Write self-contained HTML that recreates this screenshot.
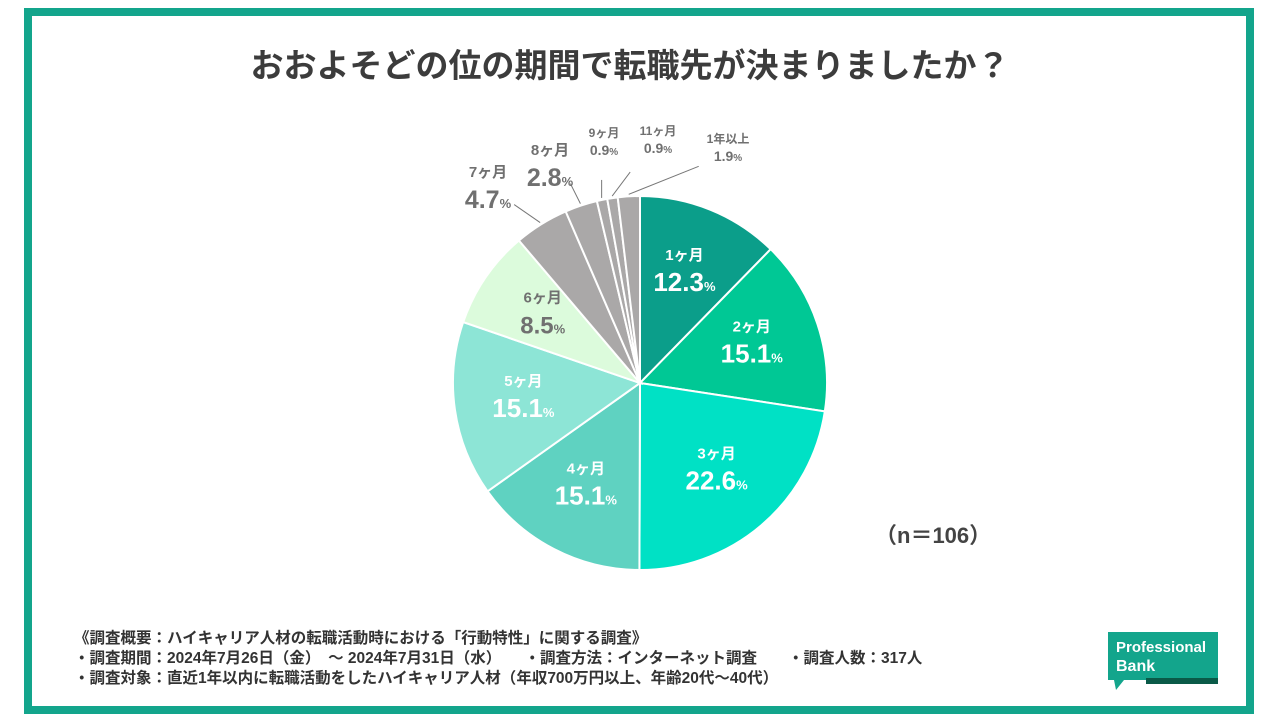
<!DOCTYPE html>
<html><head><meta charset="utf-8"><style>
body{margin:0;width:1280px;height:720px;background:#fff;overflow:hidden;font-family:"Liberation Sans","Noto Sans CJK JP",sans-serif;position:relative}
.frame{position:absolute;left:24px;top:8px;width:1214px;height:690px;border:8px solid #13a58c}
.title{position:absolute;left:0;width:1260px;top:39px;text-align:center;font-size:33px;font-weight:bold;color:#3c3c3c}
.foot{position:absolute;left:74px;top:629px;font-size:15.5px;font-weight:bold;color:#333;line-height:20px;white-space:pre}
.n{position:absolute;left:875px;top:518px;font-size:22px;font-weight:bold;color:#444}
</style></head><body>
<div class="frame"></div>
<div class="title">おおよそどの位の期間で転職先が決まりましたか？</div>
<svg id="pie" width="1280" height="720" style="position:absolute;left:0;top:0"></svg>
<div class="n">（n＝106）</div>
<div class="foot">《調査概要：ハイキャリア人材の転職活動時における「行動特性」に関する調査》
・調査期間：2024年7月26日（金）　～ 2024年7月31日（水）　　・調査方法：インターネット調査　　・調査人数：317人
・調査対象：直近1年以内に転職活動をしたハイキャリア人材（年収700万円以上、年齢20代～40代）</div>
<svg width="120" height="66" style="position:absolute;left:1106px;top:628px">
<path d="M2 4 H112 V52 H18 L10 62 L8 52 H2 Z" fill="#13a58c"/>
<rect x="40" y="50" width="72" height="6" fill="#0a5a48"/>
<text x="10" y="24" font-size="15" fill="#fff" font-family="Liberation Sans" font-weight="bold">Professional</text>
<text x="10" y="43" font-size="16" fill="#fff" font-family="Liberation Sans" font-weight="bold">Bank</text>
</svg>
<script>
const categories=["1ヶ月","2ヶ月","3ヶ月","4ヶ月","5ヶ月","6ヶ月","7ヶ月","8ヶ月","9ヶ月","11ヶ月","1年以上"];
const values=[12.3,15.1,22.6,15.1,15.1,8.5,4.7,2.8,0.9,0.9,1.9];
const colors=["#0b9e8a","#00c895","#00e1c5","#5fd2c1","#8de5d6","#dcfbdc","#aaa8a8","#aaa8a8","#aaa8a8","#aaa8a8","#aaa8a8"];
const svg=document.getElementById('pie');const NS="http://www.w3.org/2000/svg";
const cx=640,cy=383,r=187;const total=values.reduce((a,b)=>a+b,0);
function pt(a,rr){return [cx+rr*Math.sin(a),cy-rr*Math.cos(a)];}
let a0=0;
values.forEach((v,i)=>{
 const a1=a0+v/total*2*Math.PI;
 const p0=pt(a0,r),p1=pt(a1,r);
 const p=document.createElementNS(NS,'path');
 p.setAttribute('d',`M${cx},${cy}L${p0[0]},${p0[1]}A${r},${r} 0 ${a1-a0>Math.PI?1:0} 1 ${p1[0]},${p1[1]}Z`);
 p.setAttribute('fill',colors[i]);p.setAttribute('stroke','#fff');p.setAttribute('stroke-width','2');
 
 
 svg.appendChild(p);
 const mid=(a0+a1)/2;
 let lx,ly,big,fill,inside=i<6;
 if(inside){const q=pt(mid,r*0.63);lx=q[0];ly=q[1];big=i==5?24:26;fill=i==5?'#707070':'#fff';}
 else{
  const off=[[-152,-192],[-90,-214],[-36,-238],[18,-240],[88,-232]][i-6];
  const e=pt(mid,r+2);
  const ends=[[e[0]-26,e[1]-18],[e[0]-10,e[1]-20],[e[0],e[1]-18],[e[0]+18,e[1]-24],[e[0]+70,e[1]-28]][i-6];
  const ln=document.createElementNS(NS,'line');
  ln.setAttribute('x1',e[0]);ln.setAttribute('y1',e[1]);ln.setAttribute('x2',ends[0]);ln.setAttribute('y2',ends[1]);
  ln.setAttribute('stroke','#777');ln.setAttribute('stroke-width','1');
  
  
  svg.appendChild(ln);
  lx=cx+off[0];ly=cy+off[1];big=i<8?25:14;fill='#707070';
 }
 const small=!inside&&i>=8;
 const t1=document.createElementNS(NS,'text');
 t1.setAttribute('x',lx);t1.setAttribute('y',ly-(small?8:14));t1.setAttribute('text-anchor','middle');
 t1.setAttribute('font-size',small?12:15);t1.setAttribute('font-weight','bold');t1.setAttribute('fill',fill);
 t1.textContent=categories[i];
 
 
 svg.appendChild(t1);
 const t2=document.createElementNS(NS,'text');
 t2.setAttribute('x',lx);t2.setAttribute('y',ly+(small?10:17));t2.setAttribute('text-anchor','middle');
 t2.setAttribute('font-weight','bold');t2.setAttribute('fill',fill);
 t2.innerHTML=`<tspan font-size="${big}">${values[i].toFixed(1)}</tspan><tspan font-size="${small?10:13}">%</tspan>`;
 
 
 svg.appendChild(t2);
 a0=a1;
});
</script>
</body></html>
